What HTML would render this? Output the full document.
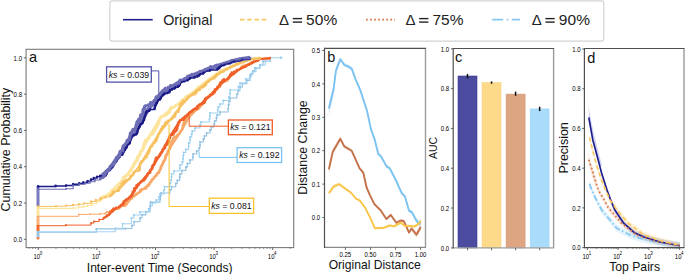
<!DOCTYPE html>
<html><head><meta charset="utf-8"><style>
html,body{margin:0;padding:0;background:#fff;}
svg{display:block;font-family:"Liberation Sans", sans-serif;}
</style></head><body>
<svg width="685" height="274" viewBox="0 0 685 274">
<defs><clipPath id="clipa"><rect x="26.1" y="49.3" width="267.59999999999997" height="198.3"/></clipPath></defs>
<rect width="685" height="274" fill="#fff"/>
<rect x="109.8" y="0.9" width="494" height="40.2" fill="#fff" stroke="#d4d4d4" stroke-width="1.2" rx="2.5"/>
<line x1="123" y1="19.7" x2="152.7" y2="19.7" stroke="#22228c" stroke-width="1.6" />
<text x="163.2" y="24.8" font-size="14.3" text-anchor="start" fill="#222" >Original</text>
<line x1="240" y1="19.6" x2="268" y2="19.6" stroke="#fcc860" stroke-width="1.6" stroke-dasharray="4.4,2.9"/>
<line x1="366" y1="19.6" x2="395" y2="19.6" stroke="#d9784a" stroke-width="1.8" stroke-dasharray="1.8,2.25"/>
<line x1="492.2" y1="19.6" x2="520" y2="19.6" stroke="#86c8f2" stroke-width="1.6" stroke-dasharray="11,3.5,1.6,3.5"/>
<text x="279.1" y="24.9" font-size="15.0" text-anchor="start" fill="#222" >Δ</text>
<line x1="292.8" y1="18.6" x2="302.1" y2="18.6" stroke="#222" stroke-width="1.4" />
<line x1="292.8" y1="22.1" x2="302.1" y2="22.1" stroke="#222" stroke-width="1.4" />
<text x="306.1" y="24.9" font-size="15.5" text-anchor="start" fill="#222" letter-spacing="0.1">50%</text>
<text x="405.4" y="24.9" font-size="15.0" text-anchor="start" fill="#222" >Δ</text>
<line x1="419.1" y1="18.6" x2="428.4" y2="18.6" stroke="#222" stroke-width="1.4" />
<line x1="419.1" y1="22.1" x2="428.4" y2="22.1" stroke="#222" stroke-width="1.4" />
<text x="432.4" y="24.9" font-size="15.5" text-anchor="start" fill="#222" letter-spacing="0.1">75%</text>
<text x="531.7" y="24.9" font-size="15.0" text-anchor="start" fill="#222" >Δ</text>
<line x1="545.4" y1="18.6" x2="554.7" y2="18.6" stroke="#222" stroke-width="1.4" />
<line x1="545.4" y1="22.1" x2="554.7" y2="22.1" stroke="#222" stroke-width="1.4" />
<text x="558.7" y="24.9" font-size="15.5" text-anchor="start" fill="#222" letter-spacing="0.1">90%</text>
<g clip-path="url(#clipa)">
<line x1="38" y1="186.4" x2="38" y2="206" stroke="#7b7bbf" stroke-width="3" />
<line x1="38" y1="206" x2="38" y2="216" stroke="#fde7a0" stroke-width="3" />
<line x1="38" y1="216" x2="38" y2="225" stroke="#f8b27a" stroke-width="3" />
<line x1="38" y1="225" x2="38" y2="231" stroke="#f26a2c" stroke-width="3" />
<line x1="38" y1="231" x2="38" y2="238" stroke="#9cc6e4" stroke-width="3" />
<path d="M38.1,232.3H96.3V228.9H125.5V228.5H132V225.5H134.06V221.75H140V218H141.95V214.83H145.85V211.67H150V208.5H150.36V205.33H150.43V202.17H160V199H160.5V196H160.94V193H170V190H171.49V186.8H175.72V183.6H177.23V180.4H179.62V177.2H180V174H181.97V170.5H185.92V167H187.36V163.5H190V160H192.89V157H193.06V154H196.75V151H199.07V148H200V145H200.05V142H203.36V139H204.42V136H206.52V133H210V130H211.36V127H214.1V124H214.65V121H216.4V118H217.03V115H220V112H228.11V108.5H228.5V105H229.06V101.5H230V98H236.84V94.33H238V90.67H240V87H242.31V83.67H246.86V80.33H250V77H250.95V74H252.89V71H254.83V68H260V65H263.02V61.35H270V57.7" fill="none" stroke="#92c2e2" stroke-width="1.1"/>
<path d="M38.1,232.3h0M96.3,228.9h0M125.5,228.5h0M132,225.5h0M134.06,221.75h0M140,218h0M141.95,214.83h0M145.85,211.67h0M150,208.5h0M150.36,205.33h0M150.43,202.17h0M160,199h0M160.5,196h0M160.94,193h0M170,190h0M171.49,186.8h0M175.72,183.6h0M177.23,180.4h0M179.62,177.2h0M180,174h0M181.97,170.5h0M185.92,167h0M187.36,163.5h0M190,160h0M192.89,157h0M193.06,154h0M196.75,151h0M199.07,148h0M200,145h0M200.05,142h0M203.36,139h0M204.42,136h0M206.52,133h0M210,130h0M211.36,127h0M214.1,124h0M214.65,121h0M216.4,118h0M217.03,115h0M220,112h0M228.11,108.5h0M228.5,105h0M229.06,101.5h0M230,98h0M236.84,94.33h0M238,90.67h0M240,87h0M242.31,83.67h0M246.86,80.33h0M250,77h0M250.95,74h0M252.89,71h0M254.83,68h0M260,65h0M263.02,61.35h0M270,57.7h0" fill="none" stroke="#8cbfe2" stroke-width="2.0" stroke-linecap="round"/>
<path d="M38.1,231.8H115.3V228.2H122.6V223.8H131.4V218H133.91V215H140V212H148.62V209H150V206H152.32V203H156.25V200H159.01V197H160V194H163.83V190.33H164.55V186.67H170V183H171.08V180H171.51V177H171.6V174H174.04V171H179.88V168H180V165H182.25V161.88H182.98V158.75H183.21V155.62H183.7V152.5H185.74V149.38H188.61V146.25H188.67V143.12H190V140H190.06V137H191.69V134H192.2V131H194.94V128H200V125H200.92V122H209.41V119H209.9V116H210V113H217.84V110H218.12V107H220V104H223.2V100.5H228.96V97H230V93.5H230.18V90H238.46V86.5H240V83H245.84V79H250V75H252.6V71.67H255.98V68.33H260V65H265.33V61.35H270V57.7H281V57.7" fill="none" stroke="#a2d4f2" stroke-width="1.1"/>
<path d="M38.1,231.8h0M115.3,228.2h0M122.6,223.8h0M131.4,218h0M133.91,215h0M140,212h0M148.62,209h0M150,206h0M152.32,203h0M156.25,200h0M159.01,197h0M160,194h0M163.83,190.33h0M164.55,186.67h0M170,183h0M171.08,180h0M171.51,177h0M171.6,174h0M174.04,171h0M179.88,168h0M180,165h0M182.25,161.88h0M182.98,158.75h0M183.21,155.62h0M183.7,152.5h0M185.74,149.38h0M188.61,146.25h0M188.67,143.12h0M190,140h0M190.06,137h0M191.69,134h0M192.2,131h0M194.94,128h0M200,125h0M200.92,122h0M209.41,119h0M209.9,116h0M210,113h0M217.84,110h0M218.12,107h0M220,104h0M223.2,100.5h0M228.96,97h0M230,93.5h0M230.18,90h0M238.46,86.5h0M240,83h0M245.84,79h0M250,75h0M252.6,71.67h0M255.98,68.33h0M260,65h0M265.33,61.35h0M270,57.7h0M281,57.7h0" fill="none" stroke="#98cdef" stroke-width="2.0" stroke-linecap="round"/>
<polyline points="110,211 120,207.5 130,199.5 140,192 150,183 160,170 170,148 180,133 190,116 200,106.5 210,95 220,85 230,76 240,69 250,63 260,59 270,57.9" fill="none" stroke="#f8a868" stroke-width="2.0" stroke-linejoin="round" stroke-linecap="butt" />
<path d="M38.1,216.3H78.8V214.4H90V214.2H100V213.8H104.9V213.5H105.81V212.67H106.88V211.83H110V211H112.51V210.12H114.51V209.25H119.04V208.38H120V207.5H120.44V206.61H125.15V205.72H126.06V204.83H127.04V203.94H127.06V203.06H127.72V202.17H128.79V201.28H128.82V200.39H130V199.5H131.47V198.56H131.56V197.62H133.01V196.69H133.93V195.75H135.6V194.81H136.23V193.88H138.03V192.94H140V192H140.03V191.1H140.11V190.2H141.61V189.3H146V188.4H146.39V187.5H147.2V186.6H148.39V185.7H148.9V184.8H149.5V183.9H150V183H150.5V182.07H151.49V181.14H151.88V180.21H152.39V179.29H154.01V178.36H154.04V177.43H154.95V176.5H156.4V175.57H156.81V174.64H157.08V173.71H158.85V172.79H159.15V171.86H159.38V170.93H160V170H160.57V169.08H160.62V168.17H160.81V167.25H161V166.33H161.86V165.42H162.14V164.5H163.06V163.58H163.15V162.67H163.35V161.75H163.85V160.83H164.89V159.92H165.17V159H165.3V158.08H165.36V157.17H165.72V156.25H165.82V155.33H166.61V154.42H167.48V153.5H167.58V152.58H167.73V151.67H168.52V150.75H169.01V149.83H169.8V148.92H170V148H170.06V147.12H170.21V146.24H170.91V145.35H171.05V144.47H171.24V143.59H171.48V142.71H171.72V141.82H171.95V140.94H173.07V140.06H173.14V139.18H173.15V138.29H174.41V137.41H175.35V136.53H177.27V135.65H177.52V134.76H178.84V133.88H180V133H180.12V132.11H180.78V131.21H181.65V130.32H182.17V129.42H182.52V128.53H182.69V127.63H182.89V126.74H183.01V125.84H183.05V124.95H183.47V124.05H183.64V123.16H184.44V122.26H184.46V121.37H185.58V120.47H186.15V119.58H187.39V118.68H188.48V117.79H189.59V116.89H190V116H190.02V115.14H191.58V114.27H191.79V113.41H192.2V112.55H193.45V111.68H194.3V110.82H194.91V109.95H198.11V109.09H199.19V108.23H199.67V107.36H200V106.5H201.32V105.62H201.76V104.73H202.78V103.85H203.07V102.96H203.21V102.08H203.72V101.19H204.86V100.31H204.99V99.42H206.03V98.54H207.74V97.65H208.84V96.77H209.99V95.88H210V95H211.38V94.09H214.16V93.18H214.23V92.27H214.67V91.36H215.11V90.45H216.16V89.55H216.93V88.64H217.82V87.73H219.92V86.82H219.92V85.91H220V85H220.17V84.1H220.34V83.2H220.43V82.3H225.07V81.4H227.5V80.5H227.62V79.6H228.5V78.7H228.98V77.8H229.45V76.9H230V76H232.01V75.12H233.71V74.25H234.58V73.38H234.98V72.5H235.75V71.62H236.01V70.75H237.57V69.88H240V69H241.15V68.14H241.35V67.29H241.82V66.43H242.95V65.57H245.18V64.71H248.85V63.86H250V63H254.46V62H257.15V61H258.71V60H260V59H270V57.9" fill="none" stroke="#f8a868" stroke-width="1.0"/>
<path d="M38.1,216.3h0" fill="none" stroke="#f8a868" stroke-width="1.6" stroke-linecap="round"/>
<path d="M78.8,214.4h0M90,214.2h0M100,213.8h0M104.9,213.5h0" fill="none" stroke="#f8a868" stroke-width="1.7" stroke-linecap="round"/>
<path d="M105.81,212.67h0" fill="none" stroke="#f8a868" stroke-width="1.8" stroke-linecap="round"/>
<path d="M257.15,61h0M258.71,60h0M260,59h0M270,57.9h0" fill="none" stroke="#f8a868" stroke-width="1.9" stroke-linecap="round"/>
<path d="M106.88,211.83h0M110,211h0M112.51,210.12h0M119.04,208.38h0M248.85,63.86h0M250,63h0" fill="none" stroke="#f8a868" stroke-width="2.0" stroke-linecap="round"/>
<path d="M114.51,209.25h0M120,207.5h0M120.44,206.61h0M245.18,64.71h0M254.46,62h0" fill="none" stroke="#f8a868" stroke-width="2.1" stroke-linecap="round"/>
<path d="M140.03,191.1h0M146.39,187.5h0M227.62,79.6h0M241.82,66.43h0M242.95,65.57h0" fill="none" stroke="#f8a868" stroke-width="2.3" stroke-linecap="round"/>
<path d="M125.15,205.72h0M126.06,204.83h0M127.04,203.94h0M135.6,194.81h0M140.11,190.2h0M146,188.4h0M147.2,186.6h0M194.3,110.82h0M194.91,109.95h0M209.99,95.88h0M225.07,81.4h0M227.5,80.5h0M241.35,67.29h0" fill="none" stroke="#f8a868" stroke-width="2.4" stroke-linecap="round"/>
<path d="M141.61,189.3h0M177.27,135.65h0M198.11,109.09h0M199.19,108.23h0M199.67,107.36h0M220.34,83.2h0M220.43,82.3h0M241.15,68.14h0" fill="none" stroke="#f8a868" stroke-width="2.5" stroke-linecap="round"/>
<path d="M131.56,197.62h0M133.93,195.75h0M136.23,193.88h0M193.45,111.68h0M206.03,98.54h0M208.84,96.77h0M210,95h0M233.71,74.25h0M234.58,73.38h0M235.75,71.62h0M236.01,70.75h0M237.57,69.88h0M240,69h0" fill="none" stroke="#f8a868" stroke-width="2.6" stroke-linecap="round"/>
<path d="M133.01,196.69h0M138.03,192.94h0M140,192h0M175.35,136.53h0M177.52,134.76h0M204.99,99.42h0M211.38,94.09h0M214.23,92.27h0M229.45,76.9h0M230,76h0M232.01,75.12h0M234.98,72.5h0" fill="none" stroke="#f8a868" stroke-width="2.7" stroke-linecap="round"/>
<path d="M127.06,203.06h0M127.72,202.17h0M128.79,201.28h0M128.82,200.39h0M130,199.5h0M131.47,198.56h0M148.39,185.7h0M148.9,184.8h0M149.5,183.9h0M150,183h0M150.5,182.07h0M151.49,181.14h0M151.88,180.21h0M152.39,179.29h0M154.01,178.36h0M154.04,177.43h0M154.95,176.5h0M156.4,175.57h0M156.81,174.64h0M157.08,173.71h0M158.85,172.79h0M159.15,171.86h0M159.38,170.93h0M160,170h0M160.57,169.08h0M160.62,168.17h0M160.81,167.25h0M161,166.33h0M161.86,165.42h0M162.14,164.5h0M163.06,163.58h0M163.15,162.67h0M163.35,161.75h0M163.85,160.83h0M164.89,159.92h0M165.17,159h0M165.3,158.08h0M165.36,157.17h0M165.72,156.25h0M165.82,155.33h0M166.61,154.42h0M167.48,153.5h0M167.58,152.58h0M167.73,151.67h0M168.52,150.75h0M169.01,149.83h0M169.8,148.92h0M170,148h0M170.06,147.12h0M170.21,146.24h0M170.91,145.35h0M171.05,144.47h0M171.24,143.59h0M171.48,142.71h0M171.72,141.82h0M171.95,140.94h0M173.07,140.06h0M173.14,139.18h0M173.15,138.29h0M174.41,137.41h0M178.84,133.88h0M180,133h0M180.12,132.11h0M180.78,131.21h0M181.65,130.32h0M182.17,129.42h0M182.52,128.53h0M182.69,127.63h0M182.89,126.74h0M183.01,125.84h0M183.05,124.95h0M183.47,124.05h0M183.64,123.16h0M184.44,122.26h0M184.46,121.37h0M185.58,120.47h0M186.15,119.58h0M187.39,118.68h0M188.48,117.79h0M189.59,116.89h0M190,116h0M190.02,115.14h0M191.58,114.27h0M191.79,113.41h0M192.2,112.55h0M200,106.5h0M201.32,105.62h0M201.76,104.73h0M202.78,103.85h0M203.07,102.96h0M203.21,102.08h0M203.72,101.19h0M204.86,100.31h0M207.74,97.65h0M214.16,93.18h0M214.67,91.36h0M215.11,90.45h0M216.16,89.55h0M216.93,88.64h0M217.82,87.73h0M219.92,86.82h0M219.92,85.91h0M220,85h0M220.17,84.1h0M228.5,78.7h0M228.98,77.8h0" fill="none" stroke="#f8a868" stroke-width="2.8" stroke-linecap="round"/>
<polyline points="110,213 120,206 130,197 140,183 150,171.5 160,155 170,136 180,120.5 190,112.3 200,104.5 210,96 220,85 230,76.5 240,69 250,64 260,59 270,57.9" fill="none" stroke="#f0602a" stroke-width="2.0" stroke-linejoin="round" stroke-linecap="butt" />
<path d="M38.1,225.7H66V225.1H91.1V223.1H94V221.5H99.3V219.5H103.4V218.5H104.4V217.58H106.17V216.67H106.96V215.75H108.69V214.83H109.59V213.92H110V213H110.91V212.12H112.31V211.25H112.39V210.38H113.05V209.5H113.7V208.62H116.2V207.75H119.45V206.88H120V206H121.82V205.1H123.07V204.2H123.31V203.3H123.81V202.4H123.92V201.5H125.26V200.6H126.12V199.7H127.87V198.8H129.12V197.9H130V197H131.18V196.12H131.92V195.25H132.02V194.38H132.81V193.5H132.81V192.62H132.95V191.75H134.28V190.88H134.32V190H134.4V189.12H134.5V188.25H136.39V187.38H136.57V186.5H136.59V185.62H138.23V184.75H138.34V183.88H140V183H140.69V182.12H141.81V181.23H143.69V180.35H144.22V179.46H145.21V178.58H145.24V177.69H146.14V176.81H146.58V175.92H147.35V175.04H147.42V174.15H148.28V173.27H149.96V172.38H150V171.5H150.26V170.58H150.82V169.67H152.01V168.75H152.2V167.83H152.33V166.92H152.52V166H153.17V165.08H154.11V164.17H154.45V163.25H154.76V162.33H155.1V161.42H155.39V160.5H155.75V159.58H155.81V158.67H156.28V157.75H158.71V156.83H159.07V155.92H160V155H160.1V154.1H160.77V153.19H161.57V152.29H162.21V151.38H162.63V150.48H163V149.57H163.59V148.67H164.89V147.76H164.98V146.86H165.04V145.95H165.82V145.05H167.24V144.14H167.65V143.24H167.99V142.33H168.71V141.43H168.83V140.52H169.01V139.62H169.13V138.71H169.63V137.81H169.85V136.9H170V136H170.87V135.09H173.13V134.18H173.39V133.26H174.3V132.35H174.69V131.44H176.11V130.53H176.76V129.62H176.99V128.71H177.17V127.79H177.19V126.88H177.67V125.97H178.03V125.06H178.17V124.15H178.5V123.24H178.79V122.32H179.89V121.41H180V120.5H183.59V119.59H184.08V118.68H184.77V117.77H185.25V116.86H186.61V115.94H187.92V115.03H188.54V114.12H189.03V113.21H190V112.3H191.84V111.43H192.33V110.57H193.58V109.7H196.64V108.83H197.23V107.97H197.48V107.1H197.73V106.23H198.93V105.37H200V104.5H202.75V103.56H204.41V102.61H204.65V101.67H204.83V100.72H205.09V99.78H205.27V98.83H206.32V97.89H208.01V96.94H210V96H210.32V95.08H212.47V94.17H212.88V93.25H213.47V92.33H214.87V91.42H214.97V90.5H215.08V89.58H217.01V88.67H217.38V87.75H217.85V86.83H218.79V85.92H220V85H220.01V84.06H220.58V83.11H221.38V82.17H222.31V81.22H222.64V80.28H223.87V79.33H228.21V78.39H228.9V77.44H230V76.5H230.14V75.56H230.49V74.62H231.68V73.69H231.81V72.75H234.19V71.81H236.8V70.88H236.91V69.94H240V69H240.79V68.17H243.3V67.33H245.7V66.5H246.29V65.67H248.2V64.83H250V64H251.93V63.17H252.3V62.33H253.95V61.5H257.78V60.67H259.1V59.83H260V59H270V57.9" fill="none" stroke="#f0602a" stroke-width="1.0"/>
<path d="M38.1,225.7h0M66,225.1h0M91.1,223.1h0M94,221.5h0" fill="none" stroke="#f0602a" stroke-width="2.1" stroke-linecap="round"/>
<path d="M99.3,219.5h0M260,59h0M270,57.9h0" fill="none" stroke="#f0602a" stroke-width="2.2" stroke-linecap="round"/>
<path d="M257.78,60.67h0M259.1,59.83h0" fill="none" stroke="#f0602a" stroke-width="2.3" stroke-linecap="round"/>
<path d="M246.29,65.67h0M251.93,63.17h0" fill="none" stroke="#f0602a" stroke-width="2.4" stroke-linecap="round"/>
<path d="M103.4,218.5h0M104.4,217.58h0M106.17,216.67h0M119.45,206.88h0M236.91,69.94h0M240,69h0M240.79,68.17h0M243.3,67.33h0M245.7,66.5h0M252.3,62.33h0M253.95,61.5h0" fill="none" stroke="#f0602a" stroke-width="2.5" stroke-linecap="round"/>
<path d="M113.05,209.5h0M116.2,207.75h0M120,206h0M192.33,110.57h0M234.19,71.81h0M236.8,70.88h0M248.2,64.83h0M250,64h0" fill="none" stroke="#f0602a" stroke-width="2.6" stroke-linecap="round"/>
<path d="M113.7,208.62h0M121.82,205.1h0M127.87,198.8h0M140,183h0M184.77,117.77h0M191.84,111.43h0M193.58,109.7h0M198.93,105.37h0M210,96h0M222.31,81.22h0M222.64,80.28h0M223.87,79.33h0M228.21,78.39h0M228.9,77.44h0M230,76.5h0" fill="none" stroke="#f0602a" stroke-width="2.7" stroke-linecap="round"/>
<path d="M106.96,215.75h0M108.69,214.83h0M112.39,210.38h0M129.12,197.9h0M141.81,181.23h0M183.59,119.59h0M184.08,118.68h0M188.54,114.12h0M197.23,107.97h0M197.48,107.1h0M200,104.5h0M202.75,103.56h0M208.01,96.94h0M210.32,95.08h0M212.47,94.17h0M231.68,73.69h0M231.81,72.75h0" fill="none" stroke="#f0602a" stroke-width="2.8" stroke-linecap="round"/>
<path d="M109.59,213.92h0M125.26,200.6h0M126.12,199.7h0M130,197h0M140.69,182.12h0M173.39,133.26h0M174.3,132.35h0M179.89,121.41h0M180,120.5h0M189.03,113.21h0M190,112.3h0M196.64,108.83h0M197.73,106.23h0M204.41,102.61h0" fill="none" stroke="#f0602a" stroke-width="2.9" stroke-linecap="round"/>
<path d="M110,213h0M110.91,212.12h0M112.31,211.25h0M123.07,204.2h0M123.31,203.3h0M123.81,202.4h0M123.92,201.5h0M131.18,196.12h0M131.92,195.25h0M132.02,194.38h0M132.81,193.5h0M132.81,192.62h0M132.95,191.75h0M134.28,190.88h0M134.32,190h0M134.4,189.12h0M134.5,188.25h0M136.39,187.38h0M136.57,186.5h0M136.59,185.62h0M138.23,184.75h0M138.34,183.88h0M143.69,180.35h0M144.22,179.46h0M145.21,178.58h0M145.24,177.69h0M146.14,176.81h0M146.58,175.92h0M147.35,175.04h0M147.42,174.15h0M148.28,173.27h0M149.96,172.38h0M150,171.5h0M150.26,170.58h0M150.82,169.67h0M152.01,168.75h0M152.2,167.83h0M152.33,166.92h0M152.52,166h0M153.17,165.08h0M154.11,164.17h0M154.45,163.25h0M154.76,162.33h0M155.1,161.42h0M155.39,160.5h0M155.75,159.58h0M155.81,158.67h0M156.28,157.75h0M158.71,156.83h0M159.07,155.92h0M160,155h0M160.1,154.1h0M160.77,153.19h0M161.57,152.29h0M162.21,151.38h0M162.63,150.48h0M163,149.57h0M163.59,148.67h0M164.89,147.76h0M164.98,146.86h0M165.04,145.95h0M165.82,145.05h0M167.24,144.14h0M167.65,143.24h0M167.99,142.33h0M168.71,141.43h0M168.83,140.52h0M169.01,139.62h0M169.13,138.71h0M169.63,137.81h0M169.85,136.9h0M170,136h0M170.87,135.09h0M173.13,134.18h0M174.69,131.44h0M176.11,130.53h0M176.76,129.62h0M176.99,128.71h0M177.17,127.79h0M177.19,126.88h0M177.67,125.97h0M178.03,125.06h0M178.17,124.15h0M178.5,123.24h0M178.79,122.32h0M185.25,116.86h0M186.61,115.94h0M187.92,115.03h0M204.65,101.67h0M204.83,100.72h0M205.09,99.78h0M205.27,98.83h0M206.32,97.89h0M212.88,93.25h0M213.47,92.33h0M214.87,91.42h0M214.97,90.5h0M215.08,89.58h0M217.01,88.67h0M217.38,87.75h0M217.85,86.83h0M218.79,85.92h0M220,85h0M220.01,84.06h0M220.58,83.11h0M221.38,82.17h0M230.14,75.56h0M230.49,74.62h0" fill="none" stroke="#f0602a" stroke-width="3.0" stroke-linecap="round"/>
<polyline points="100,200 110,193 120,183 130,171 140,154 150,135.5 160,118.5 170,110 180,102.5 190,94.5 200,86.5 210,78.5 220,71.5 230,67.5 240,62.5 250,59 260,57.9" fill="none" stroke="#fde59e" stroke-width="2.6" stroke-linejoin="round" stroke-linecap="butt" />
<path d="M38.1,208.3H73.6V208H78.8V207.2H83.5V206.5H87.6V205.5H92.3V203.5H97V201.5H101V199H101.23V198.14H102.54V197.29H103.38V196.43H105.82V195.57H108V194.71H109.61V193.86H110V193H110.94V192.09H111.84V191.18H112.02V190.27H114.01V189.36H114.98V188.45H115.09V187.55H117.52V186.64H117.66V185.73H118.02V184.82H119.18V183.91H120V183H120.89V182.08H122.03V181.15H122.7V180.23H123.11V179.31H123.32V178.38H123.4V177.46H124.78V176.54H126.31V175.62H127.17V174.69H128.64V173.77H129.13V172.85H129.47V171.92H130V171H131.46V170.11H131.49V169.21H131.98V168.32H132.18V167.42H133.22V166.53H133.53V165.63H133.81V164.74H134.18V163.84H134.73V162.95H135.77V162.05H136.08V161.16H137.41V160.26H137.49V159.37H137.71V158.47H137.79V157.58H137.87V156.68H138.94V155.79H139.86V154.89H140V154H140.11V153.12H140.38V152.24H141.08V151.36H141.94V150.48H142.64V149.6H143.1V148.71H143.18V147.83H143.44V146.95H143.55V146.07H143.93V145.19H144.36V144.31H144.48V143.43H144.62V142.55H145.4V141.67H145.42V140.79H146.24V139.9H147.38V139.02H148.9V138.14H149.14V137.26H149.55V136.38H150V135.5H150.54V134.61H152.59V133.71H153.21V132.82H153.41V131.92H154.47V131.03H154.83V130.13H155.33V129.24H156.03V128.34H156.03V127.45H156.83V126.55H157.41V125.66H157.78V124.76H158.18V123.87H158.52V122.97H158.63V122.08H159.04V121.18H159.06V120.29H159.44V119.39H160V118.5H160.59V117.56H161.42V116.61H164.6V115.67H166.82V114.72H166.96V113.78H168.53V112.83H169.5V111.89H169.56V110.94H170V110H170.35V109.06H170.46V108.12H171.49V107.19H175.01V106.25H175.53V105.31H178.24V104.38H179.81V103.44H180V102.5H181.32V101.61H181.94V100.72H183.7V99.83H184.55V98.94H185.46V98.06H185.75V97.17H186.85V96.28H188.67V95.39H190V94.5H191.44V93.61H195V92.72H196.67V91.83H196.96V90.94H197.07V90.06H197.27V89.17H197.83V88.28H198.27V87.39H200V86.5H201.8V85.61H202.95V84.72H203.77V83.83H205.34V82.94H205.88V82.06H206.82V81.17H208.93V80.28H209.7V79.39H210V78.5H213.58V77.62H215.57V76.75H216.28V75.88H217.01V75H218.18V74.12H219.6V73.25H220V72.38H220V71.5H220.93V70.5H226.96V69.5H227.57V68.5H230V67.5H231.59V66.67H233.3V65.83H234.67V65H238.45V64.17H239.8V63.33H240V62.5H241.13V61.62H242.9V60.75H249.41V59.88H250V59H260V57.9" fill="none" stroke="#fde59e" stroke-width="1.2"/>
<path d="M38.1,208.3h0M73.6,208h0M78.8,207.2h0" fill="none" stroke="#fde59e" stroke-width="1.9" stroke-linecap="round"/>
<path d="M83.5,206.5h0" fill="none" stroke="#fde59e" stroke-width="2.0" stroke-linecap="round"/>
<path d="M250,59h0M260,57.9h0" fill="none" stroke="#fde59e" stroke-width="2.1" stroke-linecap="round"/>
<path d="M242.9,60.75h0M249.41,59.88h0" fill="none" stroke="#fde59e" stroke-width="2.2" stroke-linecap="round"/>
<path d="M87.6,205.5h0" fill="none" stroke="#fde59e" stroke-width="2.3" stroke-linecap="round"/>
<path d="M92.3,203.5h0M230,67.5h0M240,62.5h0" fill="none" stroke="#fde59e" stroke-width="2.4" stroke-linecap="round"/>
<path d="M227.57,68.5h0M231.59,66.67h0M233.3,65.83h0M241.13,61.62h0" fill="none" stroke="#fde59e" stroke-width="2.5" stroke-linecap="round"/>
<path d="M97,201.5h0M190,94.5h0M191.44,93.61h0M226.96,69.5h0M234.67,65h0M238.45,64.17h0M239.8,63.33h0" fill="none" stroke="#fde59e" stroke-width="2.6" stroke-linecap="round"/>
<path d="M101,199h0M101.23,198.14h0M105.82,195.57h0M175.53,105.31h0M178.24,104.38h0M188.67,95.39h0M209.7,79.39h0M210,78.5h0M216.28,75.88h0M220,72.38h0M220.93,70.5h0" fill="none" stroke="#fde59e" stroke-width="2.7" stroke-linecap="round"/>
<path d="M102.54,197.29h0M103.38,196.43h0M108,194.71h0M109.61,193.86h0M166.82,114.72h0M175.01,106.25h0M195,92.72h0M208.93,80.28h0M213.58,77.62h0M215.57,76.75h0M220,71.5h0" fill="none" stroke="#fde59e" stroke-width="2.8" stroke-linecap="round"/>
<path d="M160.59,117.56h0M164.6,115.67h0M166.96,113.78h0M171.49,107.19h0M180,102.5h0M201.8,85.61h0M202.95,84.72h0" fill="none" stroke="#fde59e" stroke-width="2.9" stroke-linecap="round"/>
<path d="M161.42,116.61h0M186.85,96.28h0M196.67,91.83h0M205.34,82.94h0" fill="none" stroke="#fde59e" stroke-width="3.0" stroke-linecap="round"/>
<path d="M114.01,189.36h0M179.81,103.44h0M185.46,98.06h0M196.96,90.94h0M200,86.5h0M203.77,83.83h0M205.88,82.06h0M217.01,75h0" fill="none" stroke="#fde59e" stroke-width="3.1" stroke-linecap="round"/>
<path d="M110,193h0M110.94,192.09h0M181.32,101.61h0M185.75,97.17h0M198.27,87.39h0M206.82,81.17h0" fill="none" stroke="#fde59e" stroke-width="3.2" stroke-linecap="round"/>
<path d="M114.98,188.45h0M115.09,187.55h0M118.02,184.82h0M126.31,175.62h0M127.17,174.69h0M170.46,108.12h0M181.94,100.72h0M183.7,99.83h0M184.55,98.94h0" fill="none" stroke="#fde59e" stroke-width="3.3" stroke-linecap="round"/>
<path d="M111.84,191.18h0M112.02,190.27h0M117.52,186.64h0M117.66,185.73h0M119.18,183.91h0M120,183h0M120.89,182.08h0M122.03,181.15h0M122.7,180.23h0M123.11,179.31h0M123.32,178.38h0M123.4,177.46h0M124.78,176.54h0M128.64,173.77h0M129.13,172.85h0M129.47,171.92h0M130,171h0M131.46,170.11h0M131.49,169.21h0M131.98,168.32h0M132.18,167.42h0M133.22,166.53h0M133.53,165.63h0M133.81,164.74h0M134.18,163.84h0M134.73,162.95h0M135.77,162.05h0M136.08,161.16h0M137.41,160.26h0M137.49,159.37h0M137.71,158.47h0M137.79,157.58h0M137.87,156.68h0M138.94,155.79h0M139.86,154.89h0M140,154h0M140.11,153.12h0M140.38,152.24h0M141.08,151.36h0M141.94,150.48h0M142.64,149.6h0M143.1,148.71h0M143.18,147.83h0M143.44,146.95h0M143.55,146.07h0M143.93,145.19h0M144.36,144.31h0M144.48,143.43h0M144.62,142.55h0M145.4,141.67h0M145.42,140.79h0M146.24,139.9h0M147.38,139.02h0M148.9,138.14h0M149.14,137.26h0M149.55,136.38h0M150,135.5h0M150.54,134.61h0M152.59,133.71h0M153.21,132.82h0M153.41,131.92h0M154.47,131.03h0M154.83,130.13h0M155.33,129.24h0M156.03,128.34h0M156.03,127.45h0M156.83,126.55h0M157.41,125.66h0M157.78,124.76h0M158.18,123.87h0M158.52,122.97h0M158.63,122.08h0M159.04,121.18h0M159.06,120.29h0M159.44,119.39h0M160,118.5h0M168.53,112.83h0M169.5,111.89h0M169.56,110.94h0M170,110h0M170.35,109.06h0M197.07,90.06h0M197.27,89.17h0M197.83,88.28h0M218.18,74.12h0M219.6,73.25h0" fill="none" stroke="#fde59e" stroke-width="3.4" stroke-linecap="round"/>
<polyline points="110,196 120,188 130,178 140,165 150,148 160,132 170,120 180,107 190,96 200,88 210,80 220,72.5 230,67.7 240,63 250,59.5 260,58" fill="none" stroke="#f7c060" stroke-width="2.0" stroke-linejoin="round" stroke-linecap="butt" />
<path d="M38.1,206.4H56V206.2H66V205.6H73V205H78.8V204.2H84.1V203.3H91.1V201.5H95.8V200H100.4V199H100.59V198H105.59V197H110V196H111.82V195.11H111.9V194.22H112.67V193.33H113.43V192.44H113.47V191.56H118.52V190.67H118.89V189.78H119.04V188.89H120V188H120.21V187.09H121.34V186.18H121.83V185.27H121.98V184.36H122.05V183.45H123.56V182.55H123.93V181.64H125.73V180.73H126.45V179.82H129.59V178.91H130V178H130.3V177.07H130.62V176.14H132.36V175.21H133.38V174.29H133.82V173.36H133.92V172.43H135.11V171.5H138.71V170.57H139.63V169.64H139.64V168.71H139.67V167.79H139.77V166.86H139.96V165.93H140V165H140.02V164.11H140.5V163.21H141.52V162.32H141.62V161.42H143.24V160.53H143.53V159.63H144.25V158.74H145.36V157.84H146.61V156.95H146.63V156.05H146.79V155.16H147.2V154.26H148.51V153.37H148.55V152.47H148.7V151.58H149.55V150.68H149.6V149.79H149.82V148.89H150V148H150.59V147.11H151.97V146.22H152.07V145.33H152.77V144.44H153.46V143.56H154.4V142.67H154.82V141.78H156.16V140.89H156.4V140H156.68V139.11H156.81V138.22H157.6V137.33H157.94V136.44H158.11V135.56H158.2V134.67H158.87V133.78H159.35V132.89H160V132H160.44V131.08H161.04V130.15H161.19V129.23H162.3V128.31H162.32V127.38H162.89V126.46H164.17V125.54H165.18V124.62H165.27V123.69H165.52V122.77H167.18V121.85H168.11V120.92H170V120H171.58V119.07H172.04V118.14H173.79V117.21H174.8V116.29H175.11V115.36H175.47V114.43H175.52V113.5H175.92V112.57H178.31V111.64H178.39V110.71H179.04V109.79H179.13V108.86H179.2V107.93H180V107H180.3V106.08H180.35V105.17H180.53V104.25H181.65V103.33H182.61V102.42H182.62V101.5H182.9V100.58H186.6V99.67H186.87V98.75H187.77V97.83H188.36V96.92H190V96H191.65V95.11H194.41V94.22H195.77V93.33H196.15V92.44H196.49V91.56H196.64V90.67H199.74V89.78H199.96V88.89H200V88H203.21V87.11H203.42V86.22H205.54V85.33H205.62V84.44H206.21V83.56H206.45V82.67H208.13V81.78H209.03V80.89H210V80H211.74V79.06H214.23V78.12H214.74V77.19H215.86V76.25H216.58V75.31H216.72V74.38H218.91V73.44H220V72.5H223.65V71.54H224.15V70.58H225.83V69.62H227.18V68.66H230V67.7H230.39V66.76H232.47V65.82H235.71V64.88H236.07V63.94H240V63H243.45V62.12H244.87V61.25H247.58V60.38H250V59.5H253.58V58.75H260V58" fill="none" stroke="#f7c060" stroke-width="1.0"/>
<path d="M38.1,206.4h0M56,206.2h0M66,205.6h0" fill="none" stroke="#f7c060" stroke-width="2.2" stroke-linecap="round"/>
<path d="M73,205h0M78.8,204.2h0M84.1,203.3h0M247.58,60.38h0M250,59.5h0M253.58,58.75h0M260,58h0" fill="none" stroke="#f7c060" stroke-width="2.3" stroke-linecap="round"/>
<path d="M91.1,201.5h0M95.8,200h0M100.4,199h0M100.59,198h0M105.59,197h0M235.71,64.88h0M236.07,63.94h0M240,63h0M243.45,62.12h0M244.87,61.25h0" fill="none" stroke="#f7c060" stroke-width="2.4" stroke-linecap="round"/>
<path d="M110,196h0M111.82,195.11h0M223.65,71.54h0M224.15,70.58h0M225.83,69.62h0M230,67.7h0M230.39,66.76h0M232.47,65.82h0" fill="none" stroke="#f7c060" stroke-width="2.5" stroke-linecap="round"/>
<path d="M111.9,194.22h0M112.67,193.33h0M113.47,191.56h0M118.52,190.67h0M119.04,188.89h0M123.93,181.64h0M125.73,180.73h0M133.82,173.36h0M170,120h0M171.58,119.07h0M186.87,98.75h0M187.77,97.83h0M188.36,96.92h0M190,96h0M191.65,95.11h0M194.41,94.22h0M196.15,92.44h0M200,88h0M209.03,80.89h0M210,80h0M211.74,79.06h0M214.23,78.12h0M216.72,74.38h0M218.91,73.44h0M220,72.5h0M227.18,68.66h0" fill="none" stroke="#f7c060" stroke-width="2.6" stroke-linecap="round"/>
<path d="M113.43,192.44h0M118.89,189.78h0M126.45,179.82h0M129.59,178.91h0M130,178h0M130.3,177.07h0M133.92,172.43h0M135.11,171.5h0M167.18,121.85h0M168.11,120.92h0M172.04,118.14h0M182.61,102.42h0M182.62,101.5h0M182.9,100.58h0M195.77,93.33h0M199.74,89.78h0M199.96,88.89h0M203.21,87.11h0M203.42,86.22h0M205.54,85.33h0M208.13,81.78h0M214.74,77.19h0M215.86,76.25h0" fill="none" stroke="#f7c060" stroke-width="2.7" stroke-linecap="round"/>
<path d="M120,188h0M120.21,187.09h0M121.34,186.18h0M121.83,185.27h0M121.98,184.36h0M122.05,183.45h0M123.56,182.55h0M130.62,176.14h0M132.36,175.21h0M133.38,174.29h0M138.71,170.57h0M139.63,169.64h0M139.64,168.71h0M139.67,167.79h0M139.77,166.86h0M139.96,165.93h0M140,165h0M140.02,164.11h0M140.5,163.21h0M141.52,162.32h0M141.62,161.42h0M143.24,160.53h0M143.53,159.63h0M144.25,158.74h0M145.36,157.84h0M146.61,156.95h0M146.63,156.05h0M146.79,155.16h0M147.2,154.26h0M148.51,153.37h0M148.55,152.47h0M148.7,151.58h0M149.55,150.68h0M149.6,149.79h0M149.82,148.89h0M150,148h0M150.59,147.11h0M151.97,146.22h0M152.07,145.33h0M152.77,144.44h0M153.46,143.56h0M154.4,142.67h0M154.82,141.78h0M156.16,140.89h0M156.4,140h0M156.68,139.11h0M156.81,138.22h0M157.6,137.33h0M157.94,136.44h0M158.11,135.56h0M158.2,134.67h0M158.87,133.78h0M159.35,132.89h0M160,132h0M160.44,131.08h0M161.04,130.15h0M161.19,129.23h0M162.3,128.31h0M162.32,127.38h0M162.89,126.46h0M164.17,125.54h0M165.18,124.62h0M165.27,123.69h0M165.52,122.77h0M173.79,117.21h0M174.8,116.29h0M175.11,115.36h0M175.47,114.43h0M175.52,113.5h0M175.92,112.57h0M178.31,111.64h0M178.39,110.71h0M179.04,109.79h0M179.13,108.86h0M179.2,107.93h0M180,107h0M180.3,106.08h0M180.35,105.17h0M180.53,104.25h0M181.65,103.33h0M186.6,99.67h0M196.49,91.56h0M196.64,90.67h0M205.62,84.44h0M206.21,83.56h0M206.45,82.67h0M216.58,75.31h0" fill="none" stroke="#f7c060" stroke-width="2.8" stroke-linecap="round"/>
<polyline points="100,177.5 110,168.5 120,154.25 130,139 140,122.25 150,106.75 160,96.75 170,88 180,81.75 190,76.5 200,72.5 210,68.5 220,65.15 230,61.9 240,59.4 250,57.95" fill="none" stroke="#7070b8" stroke-width="4.2" stroke-linejoin="round" stroke-linecap="butt" />
<path d="M38.1,186.4H55.6V185.9H66.1V185.5H73.1V184.2H79.2V183.4H83.2V182.4H87.5V181.2H91V179.5H93.7V178H97V176.8H100V176H105.68V175.07H106.1V174.14H106.69V173.21H106.78V172.29H107.03V171.36H107.22V170.43H110V169.5H110.4V168.6H111.05V167.7H112.4V166.8H112.7V165.9H113.53V165H113.77V164.1H113.94V163.2H114.87V162.3H115.59V161.4H116.53V160.5H116.74V159.6H117.2V158.7H117.36V157.8H119.21V156.9H120V156H120.28V155.12H122.44V154.25H122.61V153.38H122.69V152.5H123.71V151.62H123.99V150.75H124.57V149.88H125.38V149H125.42V148.12H126.51V147.25H126.77V146.38H127.22V145.5H127.55V144.62H128.63V143.75H129.73V142.88H130V142H130.06V141.11H130.24V140.22H130.52V139.33H130.56V138.44H130.65V137.56H131.4V136.67H132.03V135.78H133.99V134.89H136.02V134H137.11V133.11H137.36V132.22H137.45V131.33H137.64V130.44H137.97V129.56H138.36V128.67H138.77V127.78H139V126.89H140V126H140.2V125.08H140.57V124.17H141.88V123.25H142.86V122.33H143.07V121.42H143.24V120.5H144.22V119.58H144.23V118.67H144.31V117.75H144.77V116.83H145.23V115.92H145.34V115H145.37V114.08H145.5V113.17H146.38V112.25H146.76V111.33H149.08V110.42H150V109.5H154.65V108.62H154.7V107.75H154.94V106.88H154.96V106H155.64V105.12H156.13V104.25H156.2V103.38H157.15V102.5H157.26V101.62H157.71V100.75H158.05V99.88H160V99H160.67V98.1H161.04V97.2H161.1V96.3H161.79V95.4H163.02V94.5H164.41V93.6H167.42V92.7H169.47V91.8H169.82V90.9H170V90H172.09V89.07H174.39V88.14H175.44V87.21H178.06V86.29H179.24V85.36H179.73V84.43H180V83.5H180.02V82.58H181.41V81.67H184.48V80.75H187.67V79.83H188.52V78.92H190V78H194.57V77H197.48V76H199.07V75H200V74H203.22V73H204.04V72H204.93V71H210V70H217.35V69.12H218.55V68.25H219.34V67.38H220V66.5H221.01V65.58H223.7V64.65H224.7V63.72H230V62.8H231.31V61.87H234.26V60.93H240V60H242.18V59H250V58" fill="none" stroke="#1a1a86" stroke-width="1.5"/>
<path d="M106.69,173.21h0M106.78,172.29h0M107.03,171.36h0M107.22,170.43h0M110,169.5h0M110.4,168.6h0M111.05,167.7h0M112.4,166.8h0M112.7,165.9h0M113.53,165h0M113.77,164.1h0M113.94,163.2h0M114.87,162.3h0M115.59,161.4h0M116.53,160.5h0M116.74,159.6h0M117.2,158.7h0M117.36,157.8h0M119.21,156.9h0M120,156h0M120.28,155.12h0M122.44,154.25h0M122.61,153.38h0M122.69,152.5h0M123.71,151.62h0M123.99,150.75h0M124.57,149.88h0M125.38,149h0M125.42,148.12h0M126.51,147.25h0M126.77,146.38h0M127.22,145.5h0M127.55,144.62h0M128.63,143.75h0M129.73,142.88h0M130,142h0M130.06,141.11h0M130.24,140.22h0M130.52,139.33h0M130.56,138.44h0M130.65,137.56h0M131.4,136.67h0M132.03,135.78h0M133.99,134.89h0M136.02,134h0M137.11,133.11h0M137.36,132.22h0M137.45,131.33h0M137.64,130.44h0M137.97,129.56h0M138.36,128.67h0M138.77,127.78h0M139,126.89h0M140,126h0M140.2,125.08h0M140.57,124.17h0M141.88,123.25h0M142.86,122.33h0M143.07,121.42h0M143.24,120.5h0M144.22,119.58h0M144.23,118.67h0M144.31,117.75h0M144.77,116.83h0M145.23,115.92h0M145.34,115h0M145.37,114.08h0M145.5,113.17h0M146.38,112.25h0M154.7,107.75h0M154.94,106.88h0M154.96,106h0M155.64,105.12h0M156.13,104.25h0M156.2,103.38h0M157.15,102.5h0M157.26,101.62h0M157.71,100.75h0M158.05,99.88h0M160,99h0M160.67,98.1h0M161.04,97.2h0M161.1,96.3h0M161.79,95.4h0M179.24,85.36h0M179.73,84.43h0M180,83.5h0" fill="none" stroke="#1a1a86" stroke-width="2.4" stroke-linecap="round"/>
<path d="M83.2,182.4h0M87.5,181.2h0M91,179.5h0M93.7,178h0M97,176.8h0M100,176h0M105.68,175.07h0M106.1,174.14h0M146.76,111.33h0M149.08,110.42h0M150,109.5h0M154.65,108.62h0M163.02,94.5h0M164.41,93.6h0M167.42,92.7h0M169.47,91.8h0M169.82,90.9h0M170,90h0M172.09,89.07h0M174.39,88.14h0M175.44,87.21h0M178.06,86.29h0M180.02,82.58h0M181.41,81.67h0M184.48,80.75h0M187.67,79.83h0M188.52,78.92h0M190,78h0M194.57,77h0M197.48,76h0M199.07,75h0M200,74h0M203.22,73h0M204.04,72h0M204.93,71h0M210,70h0M217.35,69.12h0M218.55,68.25h0M219.34,67.38h0M220,66.5h0M221.01,65.58h0M223.7,64.65h0M224.7,63.72h0M230,62.8h0M231.31,61.87h0" fill="none" stroke="#1a1a86" stroke-width="2.5" stroke-linecap="round"/>
<path d="M38.1,186.4h0M55.6,185.9h0M66.1,185.5h0M73.1,184.2h0M79.2,183.4h0M234.26,60.93h0M240,60h0M242.18,59h0M250,58h0" fill="none" stroke="#1a1a86" stroke-width="2.6" stroke-linecap="round"/>
<path d="M38.1,189.3H66.1V188.8H73.1V185.5H79.2V184.3H85V183.3H90V181.8H95V180H100V179H101.31V178.12H103.31V177.23H104.02V176.35H104.04V175.46H104.68V174.58H105.27V173.69H105.77V172.81H106.02V171.92H106.94V171.04H108.75V170.15H108.83V169.27H109.65V168.38H110V167.5H110.36V166.62H111.47V165.74H113.05V164.85H113.56V163.97H113.66V163.09H114.91V162.21H115.01V161.32H115.24V160.44H116.11V159.56H116.3V158.68H116.45V157.79H117.92V156.91H119.34V156.03H119.52V155.15H119.77V154.26H119.93V153.38H120V152.5H120.18V151.58H122.56V150.67H122.61V149.75H122.77V148.83H122.91V147.92H122.96V147H123.41V146.08H124.24V145.17H125.35V144.25H125.96V143.33H126.99V142.42H127V141.5H127.2V140.58H129.18V139.67H129.22V138.75H129.41V137.83H129.81V136.92H130V136H130.34V135.08H130.36V134.16H130.48V133.24H131.84V132.32H131.91V131.39H132.92V130.47H133.01V129.55H135.13V128.63H135.62V127.71H136.06V126.79H136.13V125.87H136.16V124.95H136.77V124.03H136.85V123.11H136.94V122.18H137.69V121.26H138.58V120.34H138.6V119.42H140V118.5H140.34V117.59H140.55V116.69H140.6V115.78H140.82V114.88H142.75V113.97H142.9V113.06H142.96V112.16H143.03V111.25H143.09V110.34H143.28V109.44H144.37V108.53H144.4V107.62H144.49V106.72H145.73V105.81H148.28V104.91H150V104H150.28V103.14H150.71V102.27H153.67V101.41H154.32V100.55H155.51V99.68H155.88V98.82H155.91V97.95H156.32V97.09H157.68V96.23H159.17V95.36H160V94.5H160.61V93.56H161.36V92.61H161.93V91.67H162.68V90.72H164.43V89.78H164.64V88.83H165.52V87.89H168.16V86.94H170V86H170.32V85.14H175.74V84.29H178.73V83.43H179.04V82.57H179.54V81.71H179.91V80.86H180V80H184.46V79.17H185.07V78.33H187.47V77.5H187.61V76.67H187.63V75.83H190V75H191.91V74H197.7V73H199.1V72H200V71H204.99V70H205.33V69H208V68H210V67H210.73V66.2H214.95V65.4H216.75V64.6H220V63.8H223.61V62.87H226.57V61.93H230V61H231.89V59.9H240V58.8H250V57.9" fill="none" stroke="#6d6db6" stroke-width="1.1"/>
<path d="M38.1,189.3h0M66.1,188.8h0M73.1,185.5h0" fill="none" stroke="#6d6db6" stroke-width="2.0" stroke-linecap="round"/>
<path d="M79.2,184.3h0M230,61h0M231.89,59.9h0M240,58.8h0M250,57.9h0" fill="none" stroke="#6d6db6" stroke-width="2.1" stroke-linecap="round"/>
<path d="M90,181.8h0M226.57,61.93h0" fill="none" stroke="#6d6db6" stroke-width="2.2" stroke-linecap="round"/>
<path d="M85,183.3h0M95,180h0M216.75,64.6h0M220,63.8h0" fill="none" stroke="#6d6db6" stroke-width="2.3" stroke-linecap="round"/>
<path d="M100,179h0M197.7,73h0M200,71h0M208,68h0M210.73,66.2h0M214.95,65.4h0M223.61,62.87h0" fill="none" stroke="#6d6db6" stroke-width="2.4" stroke-linecap="round"/>
<path d="M170,86h0M170.32,85.14h0M187.63,75.83h0M199.1,72h0" fill="none" stroke="#6d6db6" stroke-width="2.5" stroke-linecap="round"/>
<path d="M101.31,178.12h0M168.16,86.94h0M175.74,84.29h0M187.47,77.5h0M190,75h0M191.91,74h0M204.99,70h0M205.33,69h0M210,67h0" fill="none" stroke="#6d6db6" stroke-width="2.6" stroke-linecap="round"/>
<path d="M178.73,83.43h0M179.04,82.57h0" fill="none" stroke="#6d6db6" stroke-width="2.7" stroke-linecap="round"/>
<path d="M103.31,177.23h0M150,104h0M150.28,103.14h0M179.54,81.71h0M180,80h0" fill="none" stroke="#6d6db6" stroke-width="2.8" stroke-linecap="round"/>
<path d="M184.46,79.17h0M185.07,78.33h0" fill="none" stroke="#6d6db6" stroke-width="2.9" stroke-linecap="round"/>
<path d="M150.71,102.27h0M164.64,88.83h0M165.52,87.89h0M187.61,76.67h0" fill="none" stroke="#6d6db6" stroke-width="3.0" stroke-linecap="round"/>
<path d="M144.49,106.72h0M148.28,104.91h0M164.43,89.78h0M179.91,80.86h0" fill="none" stroke="#6d6db6" stroke-width="3.2" stroke-linecap="round"/>
<path d="M153.67,101.41h0" fill="none" stroke="#6d6db6" stroke-width="3.3" stroke-linecap="round"/>
<path d="M145.73,105.81h0M154.32,100.55h0M155.51,99.68h0M160,94.5h0" fill="none" stroke="#6d6db6" stroke-width="3.4" stroke-linecap="round"/>
<path d="M104.02,176.35h0M104.04,175.46h0M104.68,174.58h0M105.27,173.69h0M105.77,172.81h0M106.02,171.92h0M106.94,171.04h0M108.75,170.15h0M108.83,169.27h0M109.65,168.38h0M110,167.5h0M110.36,166.62h0M111.47,165.74h0M113.05,164.85h0M113.56,163.97h0M113.66,163.09h0M114.91,162.21h0M115.01,161.32h0M115.24,160.44h0M116.11,159.56h0M116.3,158.68h0M116.45,157.79h0M117.92,156.91h0M119.34,156.03h0M119.52,155.15h0M119.77,154.26h0M119.93,153.38h0M120,152.5h0M120.18,151.58h0M122.56,150.67h0M122.61,149.75h0M122.77,148.83h0M122.91,147.92h0M122.96,147h0M123.41,146.08h0M124.24,145.17h0M125.35,144.25h0M125.96,143.33h0M126.99,142.42h0M127,141.5h0M127.2,140.58h0M129.18,139.67h0M129.22,138.75h0M129.41,137.83h0M129.81,136.92h0M130,136h0M130.34,135.08h0M130.36,134.16h0M130.48,133.24h0M131.84,132.32h0M131.91,131.39h0M132.92,130.47h0M133.01,129.55h0M135.13,128.63h0M135.62,127.71h0M136.06,126.79h0M136.13,125.87h0M136.16,124.95h0M136.77,124.03h0M136.85,123.11h0M136.94,122.18h0M137.69,121.26h0M138.58,120.34h0M138.6,119.42h0M140,118.5h0M140.34,117.59h0M140.55,116.69h0M140.6,115.78h0M140.82,114.88h0M142.75,113.97h0M142.9,113.06h0M142.96,112.16h0M143.03,111.25h0M143.09,110.34h0M143.28,109.44h0M144.37,108.53h0M144.4,107.62h0M155.88,98.82h0M155.91,97.95h0M156.32,97.09h0M157.68,96.23h0M159.17,95.36h0M160.61,93.56h0M161.36,92.61h0M161.93,91.67h0M162.68,90.72h0" fill="none" stroke="#6d6db6" stroke-width="3.5" stroke-linecap="round"/>
</g>
<circle cx="38" cy="238.3" r="1.4" fill="#f08040"/>
<circle cx="281" cy="57.7" r="1.3" fill="#9dd0ee"/>
<polyline points="151.3,70.9 158.8,70.9 158.8,94.4" fill="none" stroke="#5252a8" stroke-width="1.0" stroke-linejoin="round" stroke-linecap="butt" />
<rect x="106.6" y="66.8" width="44.7" height="15.3" fill="#fff" stroke="#5252a8" stroke-width="1.3" />
<text x="128.95" y="77.8" font-size="8.7" text-anchor="middle" fill="#111"><tspan font-style="italic">ks</tspan> = 0.039</text>
<polyline points="228.4,126.2 189.2,126.2 189.2,116.5" fill="none" stroke="#f05a22" stroke-width="1.0" stroke-linejoin="round" stroke-linecap="butt" />
<rect x="228.4" y="120" width="43.9" height="14.7" fill="#fff" stroke="#f05a22" stroke-width="1.3" />
<text x="250.35" y="130.4" font-size="8.7" text-anchor="middle" fill="#111"><tspan font-style="italic">ks</tspan> = 0.121</text>
<polyline points="237.1,157.4 199.1,157.4 199.1,151.9" fill="none" stroke="#78c4f0" stroke-width="1.0" stroke-linejoin="round" stroke-linecap="butt" />
<rect x="237.1" y="147.7" width="44.5" height="14.8" fill="#fff" stroke="#78c4f0" stroke-width="1.3" />
<text x="259.35" y="158.2" font-size="8.7" text-anchor="middle" fill="#111"><tspan font-style="italic">ks</tspan> = 0.192</text>
<polyline points="209.3,206.5 169.1,206.5 169.1,124.1" fill="none" stroke="#f8c22c" stroke-width="1.0" stroke-linejoin="round" stroke-linecap="butt" />
<rect x="209.3" y="198.2" width="44.3" height="15.2" fill="#fff" stroke="#f8c22c" stroke-width="1.3" />
<text x="231.45" y="209.1" font-size="8.7" text-anchor="middle" fill="#111"><tspan font-style="italic">ks</tspan> = 0.081</text>
<rect x="26.1" y="49.3" width="267.6" height="198.3" fill="none" stroke="#7a7a7a" stroke-width="1.1" />
<line x1="23.9" y1="239.3" x2="26.1" y2="239.3" stroke="#444" stroke-width="0.8" />
<text x="22" y="242" font-size="6.7" font-weight="normal" text-anchor="end" fill="#000" textLength="8.38" lengthAdjust="spacingAndGlyphs">0.0</text>
<line x1="23.9" y1="203.02" x2="26.1" y2="203.02" stroke="#444" stroke-width="0.8" />
<text x="22" y="205.72" font-size="6.7" font-weight="normal" text-anchor="end" fill="#000" textLength="8.38" lengthAdjust="spacingAndGlyphs">0.2</text>
<line x1="23.9" y1="166.74" x2="26.1" y2="166.74" stroke="#444" stroke-width="0.8" />
<text x="22" y="169.44" font-size="6.7" font-weight="normal" text-anchor="end" fill="#000" textLength="8.38" lengthAdjust="spacingAndGlyphs">0.4</text>
<line x1="23.9" y1="130.46" x2="26.1" y2="130.46" stroke="#444" stroke-width="0.8" />
<text x="22" y="133.16" font-size="6.7" font-weight="normal" text-anchor="end" fill="#000" textLength="8.38" lengthAdjust="spacingAndGlyphs">0.6</text>
<line x1="23.9" y1="94.18" x2="26.1" y2="94.18" stroke="#444" stroke-width="0.8" />
<text x="22" y="96.88" font-size="6.7" font-weight="normal" text-anchor="end" fill="#000" textLength="8.38" lengthAdjust="spacingAndGlyphs">0.8</text>
<line x1="23.9" y1="57.9" x2="26.1" y2="57.9" stroke="#444" stroke-width="0.8" />
<text x="22" y="60.6" font-size="6.7" font-weight="normal" text-anchor="end" fill="#000" textLength="8.38" lengthAdjust="spacingAndGlyphs">1.0</text>
<line x1="38.3" y1="247.6" x2="38.3" y2="250" stroke="#444" stroke-width="0.8" />
<text x="36.8" y="258.7" font-size="6.7" font-weight="normal" text-anchor="middle" fill="#000" textLength="6.71" lengthAdjust="spacingAndGlyphs">10</text>
<text x="39.7" y="254.5" font-size="4.5" text-anchor="start" fill="#000" >0</text>
<line x1="55.94" y1="247.6" x2="55.94" y2="248.9" stroke="#444" stroke-width="0.6" />
<line x1="66.26" y1="247.6" x2="66.26" y2="248.9" stroke="#444" stroke-width="0.6" />
<line x1="73.58" y1="247.6" x2="73.58" y2="248.9" stroke="#444" stroke-width="0.6" />
<line x1="79.26" y1="247.6" x2="79.26" y2="248.9" stroke="#444" stroke-width="0.6" />
<line x1="83.9" y1="247.6" x2="83.9" y2="248.9" stroke="#444" stroke-width="0.6" />
<line x1="87.82" y1="247.6" x2="87.82" y2="248.9" stroke="#444" stroke-width="0.6" />
<line x1="91.22" y1="247.6" x2="91.22" y2="248.9" stroke="#444" stroke-width="0.6" />
<line x1="94.22" y1="247.6" x2="94.22" y2="248.9" stroke="#444" stroke-width="0.6" />
<line x1="96.9" y1="247.6" x2="96.9" y2="250" stroke="#444" stroke-width="0.8" />
<text x="95.4" y="258.7" font-size="6.7" font-weight="normal" text-anchor="middle" fill="#000" textLength="6.71" lengthAdjust="spacingAndGlyphs">10</text>
<text x="98.3" y="254.5" font-size="4.5" text-anchor="start" fill="#000" >1</text>
<line x1="114.54" y1="247.6" x2="114.54" y2="248.9" stroke="#444" stroke-width="0.6" />
<line x1="124.86" y1="247.6" x2="124.86" y2="248.9" stroke="#444" stroke-width="0.6" />
<line x1="132.18" y1="247.6" x2="132.18" y2="248.9" stroke="#444" stroke-width="0.6" />
<line x1="137.86" y1="247.6" x2="137.86" y2="248.9" stroke="#444" stroke-width="0.6" />
<line x1="142.5" y1="247.6" x2="142.5" y2="248.9" stroke="#444" stroke-width="0.6" />
<line x1="146.42" y1="247.6" x2="146.42" y2="248.9" stroke="#444" stroke-width="0.6" />
<line x1="149.82" y1="247.6" x2="149.82" y2="248.9" stroke="#444" stroke-width="0.6" />
<line x1="152.82" y1="247.6" x2="152.82" y2="248.9" stroke="#444" stroke-width="0.6" />
<line x1="155.5" y1="247.6" x2="155.5" y2="250" stroke="#444" stroke-width="0.8" />
<text x="154" y="258.7" font-size="6.7" font-weight="normal" text-anchor="middle" fill="#000" textLength="6.71" lengthAdjust="spacingAndGlyphs">10</text>
<text x="156.9" y="254.5" font-size="4.5" text-anchor="start" fill="#000" >2</text>
<line x1="173.14" y1="247.6" x2="173.14" y2="248.9" stroke="#444" stroke-width="0.6" />
<line x1="183.46" y1="247.6" x2="183.46" y2="248.9" stroke="#444" stroke-width="0.6" />
<line x1="190.78" y1="247.6" x2="190.78" y2="248.9" stroke="#444" stroke-width="0.6" />
<line x1="196.46" y1="247.6" x2="196.46" y2="248.9" stroke="#444" stroke-width="0.6" />
<line x1="201.1" y1="247.6" x2="201.1" y2="248.9" stroke="#444" stroke-width="0.6" />
<line x1="205.02" y1="247.6" x2="205.02" y2="248.9" stroke="#444" stroke-width="0.6" />
<line x1="208.42" y1="247.6" x2="208.42" y2="248.9" stroke="#444" stroke-width="0.6" />
<line x1="211.42" y1="247.6" x2="211.42" y2="248.9" stroke="#444" stroke-width="0.6" />
<line x1="214.1" y1="247.6" x2="214.1" y2="250" stroke="#444" stroke-width="0.8" />
<text x="212.6" y="258.7" font-size="6.7" font-weight="normal" text-anchor="middle" fill="#000" textLength="6.71" lengthAdjust="spacingAndGlyphs">10</text>
<text x="215.5" y="254.5" font-size="4.5" text-anchor="start" fill="#000" >3</text>
<line x1="231.74" y1="247.6" x2="231.74" y2="248.9" stroke="#444" stroke-width="0.6" />
<line x1="242.06" y1="247.6" x2="242.06" y2="248.9" stroke="#444" stroke-width="0.6" />
<line x1="249.38" y1="247.6" x2="249.38" y2="248.9" stroke="#444" stroke-width="0.6" />
<line x1="255.06" y1="247.6" x2="255.06" y2="248.9" stroke="#444" stroke-width="0.6" />
<line x1="259.7" y1="247.6" x2="259.7" y2="248.9" stroke="#444" stroke-width="0.6" />
<line x1="263.62" y1="247.6" x2="263.62" y2="248.9" stroke="#444" stroke-width="0.6" />
<line x1="267.02" y1="247.6" x2="267.02" y2="248.9" stroke="#444" stroke-width="0.6" />
<line x1="270.02" y1="247.6" x2="270.02" y2="248.9" stroke="#444" stroke-width="0.6" />
<line x1="272.7" y1="247.6" x2="272.7" y2="250" stroke="#444" stroke-width="0.8" />
<text x="271.2" y="258.7" font-size="6.7" font-weight="normal" text-anchor="middle" fill="#000" textLength="6.71" lengthAdjust="spacingAndGlyphs">10</text>
<text x="274.1" y="254.5" font-size="4.5" text-anchor="start" fill="#000" >4</text>
<line x1="290.34" y1="247.6" x2="290.34" y2="248.9" stroke="#444" stroke-width="0.6" />
<line x1="29.22" y1="247.6" x2="29.22" y2="248.9" stroke="#444" stroke-width="0.6" />
<line x1="32.62" y1="247.6" x2="32.62" y2="248.9" stroke="#444" stroke-width="0.6" />
<line x1="35.62" y1="247.6" x2="35.62" y2="248.9" stroke="#444" stroke-width="0.6" />
<text x="29" y="62.4" font-size="14.5" text-anchor="start" fill="#111" >a</text>
<text x="159.7" y="271.7" font-size="12.1" text-anchor="middle" fill="#111" >Inter-event Time (Seconds)</text>
<text x="0" y="0" font-size="12.45" text-anchor="middle" fill="#111" transform="translate(9.6,149.6) rotate(-90)">Cumulative Probability</text>
<path d="M328.9,101.6 L333.5,84.73 L335.9,67.27 L340.3,57.4 L344.3,63.1 L348,64.6 L351.7,66.8 L355.7,77.8 L360,87.6 L367,109 L371,127.6 L374.8,138.1 L378.3,152.3 L380.9,154.5 L386.4,164.3 L389.7,166.5 L395.8,178.2 L401.7,191.3 L405,194.6 L409,208.9 L412,210.6 L416.4,218.13 L419.3,220.87 L420.8,218.5 L420.8,225.5 L419.3,226.73 L416.4,222.87 L412,214.2 L409,212.5 L405,198.2 L401.7,194.9 L395.8,181.8 L389.7,170.1 L386.4,167.9 L380.9,158.1 L378.3,155.9 L374.8,141.7 L371,131.2 L367,112.6 L360,91.2 L355.7,81.4 L351.7,70.4 L348,68.2 L344.3,66.7 L340.3,61 L335.9,74.33 L333.5,95.27 L328.9,115.6Z" fill="#8ccbf2" opacity="0.35"/>
<path d="M328.9,165.4 L332.7,148.73 L340.3,136.47 L344.3,144.9 L351.7,149.3 L355.7,158.1 L359.6,166.8 L363.3,171.2 L366.6,186 L370,193.8 L374.4,202.6 L380.9,209.2 L386.4,217.5 L390.8,213.5 L396.3,221.2 L400.7,219 L403.9,219.7 L409,231.1 L411.6,226.43 L416.4,231.87 L420.8,223.6 L420.8,230.6 L416.4,237.53 L411.6,230.77 L409,234.1 L403.9,222.7 L400.7,222 L396.3,224.2 L390.8,216.5 L386.4,220.5 L380.9,212.2 L374.4,205.6 L370,196.8 L366.6,189 L363.3,174.2 L359.6,169.8 L355.7,161.1 L351.7,152.3 L344.3,147.9 L340.3,141.13 L332.7,155.07 L328.9,173.4Z" fill="#d08a68" opacity="0.3"/>
<path d="M328.9,190.5 L333.8,184.33 L339.2,182.57 L346.9,188.5 L351.3,191.8 L355.7,197.3 L360,199.5 L365.5,207.1 L369.9,215.9 L374.8,227 L384.2,226.5 L389.7,224.3 L394.1,225.2 L400.7,221.5 L405,224.8 L410.5,224.8 L414.9,224.77 L418.6,221.73 L420.8,218.7 L420.8,223.7 L418.6,225.87 L414.9,228.03 L410.5,227.2 L405,227.2 L400.7,223.9 L394.1,227.6 L389.7,226.7 L384.2,228.9 L374.8,229.4 L369.9,218.3 L365.5,209.5 L360,201.9 L355.7,199.7 L351.3,194.2 L346.9,190.9 L339.2,185.83 L333.8,188.47 L328.9,195.5Z" fill="#f9c54a" opacity="0.3"/>
<polyline points="328.9,108.6 333.5,90 335.9,70.8 340.3,59.2 344.3,64.9 348,66.4 351.7,68.6 355.7,79.6 360,89.4 367,110.8 371,129.4 374.8,139.9 378.3,154.1 380.9,156.3 386.4,166.1 389.7,168.3 395.8,180 401.7,193.1 405,196.4 409,210.7 412,212.4 416.4,220.5 419.3,223.8 420.8,222" fill="none" stroke="#7cc3f2" stroke-width="1.9" stroke-linejoin="round" stroke-linecap="butt" />
<polyline points="328.9,169.4 332.7,151.9 340.3,138.8 344.3,146.4 351.7,150.8 355.7,159.6 359.6,168.3 363.3,172.7 366.6,187.5 370,195.3 374.4,204.1 380.9,210.7 386.4,219 390.8,215 396.3,222.7 400.7,220.5 403.9,221.2 409,232.6 411.6,228.6 416.4,234.7 420.8,227.1" fill="none" stroke="#c5714a" stroke-width="1.9" stroke-linejoin="round" stroke-linecap="butt" />
<polyline points="328.9,193 333.8,186.4 339.2,184.2 346.9,189.7 351.3,193 355.7,198.5 360,200.7 365.5,208.3 369.9,217.1 374.8,228.2 384.2,227.7 389.7,225.5 394.1,226.4 400.7,222.7 405,226 410.5,226 414.9,226.4 418.6,223.8 420.8,221.2" fill="none" stroke="#f8c548" stroke-width="1.9" stroke-linejoin="round" stroke-linecap="butt" />
<line x1="425.5" y1="48.3" x2="425.5" y2="247.4" stroke="#9a9a9a" stroke-width="1.4" />
<line x1="324.5" y1="48.3" x2="426" y2="48.3" stroke="#505050" stroke-width="1.2" />
<line x1="324.5" y1="247.4" x2="426" y2="247.4" stroke="#8a8a8a" stroke-width="1.3" />
<line x1="324.5" y1="47.7" x2="324.5" y2="248" stroke="#505050" stroke-width="1.2" />
<line x1="322.3" y1="217.5" x2="324.5" y2="217.5" stroke="#444" stroke-width="0.8" />
<text x="320.2" y="220.2" font-size="6.7" font-weight="normal" text-anchor="end" fill="#000" textLength="8.38" lengthAdjust="spacingAndGlyphs">0.0</text>
<line x1="322.3" y1="184.1" x2="324.5" y2="184.1" stroke="#444" stroke-width="0.8" />
<text x="320.2" y="186.8" font-size="6.7" font-weight="normal" text-anchor="end" fill="#000" textLength="8.38" lengthAdjust="spacingAndGlyphs">0.1</text>
<line x1="322.3" y1="150.7" x2="324.5" y2="150.7" stroke="#444" stroke-width="0.8" />
<text x="320.2" y="153.4" font-size="6.7" font-weight="normal" text-anchor="end" fill="#000" textLength="8.38" lengthAdjust="spacingAndGlyphs">0.2</text>
<line x1="322.3" y1="117.3" x2="324.5" y2="117.3" stroke="#444" stroke-width="0.8" />
<text x="320.2" y="120" font-size="6.7" font-weight="normal" text-anchor="end" fill="#000" textLength="8.38" lengthAdjust="spacingAndGlyphs">0.3</text>
<line x1="322.3" y1="83.9" x2="324.5" y2="83.9" stroke="#444" stroke-width="0.8" />
<text x="320.2" y="86.6" font-size="6.7" font-weight="normal" text-anchor="end" fill="#000" textLength="8.38" lengthAdjust="spacingAndGlyphs">0.4</text>
<line x1="322.3" y1="50.5" x2="324.5" y2="50.5" stroke="#444" stroke-width="0.8" />
<text x="320.2" y="53.2" font-size="6.7" font-weight="normal" text-anchor="end" fill="#000" textLength="8.38" lengthAdjust="spacingAndGlyphs">0.5</text>
<line x1="345.38" y1="247.4" x2="345.38" y2="249.8" stroke="#444" stroke-width="0.8" />
<text x="345.38" y="256.8" font-size="6.7" font-weight="normal" text-anchor="middle" fill="#000" textLength="11.73" lengthAdjust="spacingAndGlyphs">0.25</text>
<line x1="370.45" y1="247.4" x2="370.45" y2="249.8" stroke="#444" stroke-width="0.8" />
<text x="370.45" y="256.8" font-size="6.7" font-weight="normal" text-anchor="middle" fill="#000" textLength="11.73" lengthAdjust="spacingAndGlyphs">0.50</text>
<line x1="395.52" y1="247.4" x2="395.52" y2="249.8" stroke="#444" stroke-width="0.8" />
<text x="395.52" y="256.8" font-size="6.7" font-weight="normal" text-anchor="middle" fill="#000" textLength="11.73" lengthAdjust="spacingAndGlyphs">0.75</text>
<line x1="420.6" y1="247.4" x2="420.6" y2="249.8" stroke="#444" stroke-width="0.8" />
<text x="420.6" y="256.8" font-size="6.7" font-weight="normal" text-anchor="middle" fill="#000" textLength="11.73" lengthAdjust="spacingAndGlyphs">1.00</text>
<text x="327.3" y="61.9" font-size="14.5" text-anchor="start" fill="#111" >b</text>
<text x="374.7" y="268.7" font-size="12.1" text-anchor="middle" fill="#111" >Original Distance</text>
<text x="0" y="0" font-size="12.3" text-anchor="middle" fill="#111" transform="translate(307.4,147.5) rotate(-90)">Distance Change</text>
<rect x="458" y="76" width="19" height="171.9" fill="#4b4ba0" stroke="#3d3d95" stroke-width="0.6" />
<line x1="467.5" y1="73.9" x2="467.5" y2="78.5" stroke="#111" stroke-width="1.5" />
<rect x="482.1" y="82.6" width="18.9" height="165.3" fill="#fdd98a" stroke="#f5cf7e" stroke-width="0.6" />
<line x1="491.55" y1="81.4" x2="491.55" y2="83.8" stroke="#111" stroke-width="1.5" />
<rect x="506.1" y="94.1" width="19" height="153.8" fill="#dea583" stroke="#d49574" stroke-width="0.6" />
<line x1="515.6" y1="91.6" x2="515.6" y2="95.8" stroke="#111" stroke-width="1.5" />
<rect x="530.2" y="108.9" width="18.9" height="139" fill="#a9dcfa" stroke="#9fd4f5" stroke-width="0.6" />
<line x1="539.65" y1="106.7" x2="539.65" y2="111.1" stroke="#111" stroke-width="1.5" />
<line x1="553.6" y1="48.5" x2="553.6" y2="247.9" stroke="#9a9a9a" stroke-width="1.4" />
<line x1="453.2" y1="48.5" x2="554.1" y2="48.5" stroke="#505050" stroke-width="1.2" />
<line x1="453.2" y1="247.9" x2="554.1" y2="247.9" stroke="#a0a0a0" stroke-width="1.3" />
<line x1="453.2" y1="47.9" x2="453.2" y2="248.5" stroke="#505050" stroke-width="1.2" />
<line x1="451" y1="247.9" x2="453.2" y2="247.9" stroke="#444" stroke-width="0.8" />
<text x="449.2" y="250.6" font-size="6.7" font-weight="normal" text-anchor="end" fill="#000" textLength="8.38" lengthAdjust="spacingAndGlyphs">0.0</text>
<line x1="451" y1="208.08" x2="453.2" y2="208.08" stroke="#444" stroke-width="0.8" />
<text x="449.2" y="210.78" font-size="6.7" font-weight="normal" text-anchor="end" fill="#000" textLength="8.38" lengthAdjust="spacingAndGlyphs">0.2</text>
<line x1="451" y1="168.26" x2="453.2" y2="168.26" stroke="#444" stroke-width="0.8" />
<text x="449.2" y="170.96" font-size="6.7" font-weight="normal" text-anchor="end" fill="#000" textLength="8.38" lengthAdjust="spacingAndGlyphs">0.4</text>
<line x1="451" y1="128.44" x2="453.2" y2="128.44" stroke="#444" stroke-width="0.8" />
<text x="449.2" y="131.14" font-size="6.7" font-weight="normal" text-anchor="end" fill="#000" textLength="8.38" lengthAdjust="spacingAndGlyphs">0.6</text>
<line x1="451" y1="88.62" x2="453.2" y2="88.62" stroke="#444" stroke-width="0.8" />
<text x="449.2" y="91.32" font-size="6.7" font-weight="normal" text-anchor="end" fill="#000" textLength="8.38" lengthAdjust="spacingAndGlyphs">0.8</text>
<line x1="451" y1="48.8" x2="453.2" y2="48.8" stroke="#444" stroke-width="0.8" />
<text x="449.2" y="51.5" font-size="6.7" font-weight="normal" text-anchor="end" fill="#000" textLength="8.38" lengthAdjust="spacingAndGlyphs">1.0</text>
<line x1="467.5" y1="247.9" x2="467.5" y2="250.3" stroke="#444" stroke-width="0.8" />
<line x1="491.55" y1="247.9" x2="491.55" y2="250.3" stroke="#444" stroke-width="0.8" />
<line x1="515.6" y1="247.9" x2="515.6" y2="250.3" stroke="#444" stroke-width="0.8" />
<line x1="539.65" y1="247.9" x2="539.65" y2="250.3" stroke="#444" stroke-width="0.8" />
<text x="455" y="61.9" font-size="14.5" text-anchor="start" fill="#111" >c</text>
<text x="0" y="0" font-size="10.5" text-anchor="middle" fill="#111" transform="translate(437.2,147.9) rotate(-90)">AUC</text>
<path d="M588.8,114.5 L592.8,137 L598.2,157 L601.5,169.8 L607,187 L610.3,196.1 L614.7,206.7 L623.4,219.8 L634.4,229.7 L644,234.1 L660,239 L680,242.8 L680,248.8 L660,245 L644,240.1 L634.4,235.7 L623.4,225.8 L614.7,212.7 L610.3,202.1 L607,193 L601.5,175.8 L598.2,163 L592.8,143 L588.8,120.5Z" fill="#8080d0" opacity="0.3"/>
<path d="M588.4,106 L590.6,118 L594,134 L598.5,152 L602,166 L600,166 L596,150 L592.4,136 L589,118 Z" fill="#9a9ae0" opacity="0.45"/>
<path d="M589.5,134.2 L592.5,147 L596.5,162 L601.5,177 L606.5,189 L610,197 L616.8,206.7 L627.8,219.8 L644,231.9 L660,237.5 L680,242.5 L680,248.5 L660,243.5 L644,237.9 L627.8,225.8 L616.8,212.7 L610,203 L606.5,195 L601.5,183 L596.5,168 L592.5,153 L589.5,140.2Z" fill="#fcd888" opacity="0.3"/>
<path d="M588.8,156.7 L593.9,172 L598.2,187 L603.7,196.1 L608.1,204.5 L621.2,219.8 L636.5,231.9 L655,238 L680,242.5 L680,248.5 L655,244 L636.5,237.9 L621.2,225.8 L608.1,210.5 L603.7,202.1 L598.2,193 L593.9,178 L588.8,162.7Z" fill="#eab090" opacity="0.3"/>
<path d="M588.2,152 L590,160 L593,172 L596.5,184 L596,188 L592,176 L589,165 Z" fill="#f0c0a8" opacity="0.5"/>
<path d="M589.5,180.3 L591.7,186.5 L596,195.6 L601.5,206.2 L616.8,224.8 L632.2,232.5 L644,235.8 L660,239 L680,242.3 L680,249.3 L660,246 L644,242.8 L632.2,239.5 L616.8,231.8 L601.5,213.2 L596,202.6 L591.7,193.5 L589.5,187.3Z" fill="#b0dcf8" opacity="0.35"/>
<polyline points="589.5,183.8 591.7,190 596,199.1 601.5,209.7 616.8,228.3 632.2,236 644,239.3 660,242.5 680,245.8" fill="none" stroke="#86c8f2" stroke-width="1.8" stroke-linejoin="round" stroke-linecap="butt" stroke-dasharray="6,2.5,1.5,2.5"/>
<polyline points="588.8,117.5 592.8,140 598.2,160 601.5,172.8 607,190 610.3,199.1 614.7,209.7 623.4,222.8 634.4,232.7 644,237.1 660,242 680,245.8" fill="none" stroke="#1c1c8c" stroke-width="1.6" stroke-linejoin="round" stroke-linecap="butt" />
<polyline points="588.8,159.7 593.9,175 598.2,190 603.7,199.1 608.1,207.5 621.2,222.8 636.5,234.9 655,241 680,245.5" fill="none" stroke="#d9784a" stroke-width="1.8" stroke-linejoin="round" stroke-linecap="butt" stroke-dasharray="1.6,2.6"/>
<polyline points="589.5,137.2 592.5,150 596.5,165 601.5,180 606.5,192 610,200 616.8,209.7 627.8,222.8 644,234.9 660,240.5 680,245.5" fill="none" stroke="#fcc860" stroke-width="1.6" stroke-linejoin="round" stroke-linecap="butt" stroke-dasharray="4.4,2.9"/>
<line x1="684" y1="48.5" x2="684" y2="247.6" stroke="#9a9a9a" stroke-width="1.4" />
<line x1="584.4" y1="48.5" x2="684.5" y2="48.5" stroke="#505050" stroke-width="1.2" />
<line x1="584.4" y1="247.6" x2="684.5" y2="247.6" stroke="#505050" stroke-width="1.3" />
<line x1="584.4" y1="47.9" x2="584.4" y2="248.2" stroke="#505050" stroke-width="1.2" />
<line x1="582.2" y1="247.6" x2="584.4" y2="247.6" stroke="#444" stroke-width="0.8" />
<text x="580.6" y="250.3" font-size="6.7" font-weight="normal" text-anchor="end" fill="#000" textLength="8.38" lengthAdjust="spacingAndGlyphs">0.0</text>
<line x1="582.2" y1="207.88" x2="584.4" y2="207.88" stroke="#444" stroke-width="0.8" />
<text x="580.6" y="210.58" font-size="6.7" font-weight="normal" text-anchor="end" fill="#000" textLength="8.38" lengthAdjust="spacingAndGlyphs">0.2</text>
<line x1="582.2" y1="168.16" x2="584.4" y2="168.16" stroke="#444" stroke-width="0.8" />
<text x="580.6" y="170.86" font-size="6.7" font-weight="normal" text-anchor="end" fill="#000" textLength="8.38" lengthAdjust="spacingAndGlyphs">0.4</text>
<line x1="582.2" y1="128.44" x2="584.4" y2="128.44" stroke="#444" stroke-width="0.8" />
<text x="580.6" y="131.14" font-size="6.7" font-weight="normal" text-anchor="end" fill="#000" textLength="8.38" lengthAdjust="spacingAndGlyphs">0.6</text>
<line x1="582.2" y1="88.72" x2="584.4" y2="88.72" stroke="#444" stroke-width="0.8" />
<text x="580.6" y="91.42" font-size="6.7" font-weight="normal" text-anchor="end" fill="#000" textLength="8.38" lengthAdjust="spacingAndGlyphs">0.8</text>
<line x1="582.2" y1="49" x2="584.4" y2="49" stroke="#444" stroke-width="0.8" />
<text x="580.6" y="51.7" font-size="6.7" font-weight="normal" text-anchor="end" fill="#000" textLength="8.38" lengthAdjust="spacingAndGlyphs">1.0</text>
<line x1="587.3" y1="247.6" x2="587.3" y2="250" stroke="#444" stroke-width="0.8" />
<text x="585.8" y="258.7" font-size="6.7" font-weight="normal" text-anchor="middle" fill="#000" textLength="6.71" lengthAdjust="spacingAndGlyphs">10</text>
<text x="588.7" y="254.5" font-size="4.5" text-anchor="start" fill="#000" >1</text>
<line x1="596.57" y1="247.6" x2="596.57" y2="248.9" stroke="#444" stroke-width="0.6" />
<line x1="602" y1="247.6" x2="602" y2="248.9" stroke="#444" stroke-width="0.6" />
<line x1="605.84" y1="247.6" x2="605.84" y2="248.9" stroke="#444" stroke-width="0.6" />
<line x1="608.83" y1="247.6" x2="608.83" y2="248.9" stroke="#444" stroke-width="0.6" />
<line x1="611.27" y1="247.6" x2="611.27" y2="248.9" stroke="#444" stroke-width="0.6" />
<line x1="613.33" y1="247.6" x2="613.33" y2="248.9" stroke="#444" stroke-width="0.6" />
<line x1="615.12" y1="247.6" x2="615.12" y2="248.9" stroke="#444" stroke-width="0.6" />
<line x1="616.69" y1="247.6" x2="616.69" y2="248.9" stroke="#444" stroke-width="0.6" />
<line x1="618.1" y1="247.6" x2="618.1" y2="250" stroke="#444" stroke-width="0.8" />
<text x="616.6" y="258.7" font-size="6.7" font-weight="normal" text-anchor="middle" fill="#000" textLength="6.71" lengthAdjust="spacingAndGlyphs">10</text>
<text x="619.5" y="254.5" font-size="4.5" text-anchor="start" fill="#000" >2</text>
<line x1="627.37" y1="247.6" x2="627.37" y2="248.9" stroke="#444" stroke-width="0.6" />
<line x1="632.8" y1="247.6" x2="632.8" y2="248.9" stroke="#444" stroke-width="0.6" />
<line x1="636.64" y1="247.6" x2="636.64" y2="248.9" stroke="#444" stroke-width="0.6" />
<line x1="639.63" y1="247.6" x2="639.63" y2="248.9" stroke="#444" stroke-width="0.6" />
<line x1="642.07" y1="247.6" x2="642.07" y2="248.9" stroke="#444" stroke-width="0.6" />
<line x1="644.13" y1="247.6" x2="644.13" y2="248.9" stroke="#444" stroke-width="0.6" />
<line x1="645.92" y1="247.6" x2="645.92" y2="248.9" stroke="#444" stroke-width="0.6" />
<line x1="647.49" y1="247.6" x2="647.49" y2="248.9" stroke="#444" stroke-width="0.6" />
<line x1="648.9" y1="247.6" x2="648.9" y2="250" stroke="#444" stroke-width="0.8" />
<text x="647.4" y="258.7" font-size="6.7" font-weight="normal" text-anchor="middle" fill="#000" textLength="6.71" lengthAdjust="spacingAndGlyphs">10</text>
<text x="650.3" y="254.5" font-size="4.5" text-anchor="start" fill="#000" >3</text>
<line x1="658.17" y1="247.6" x2="658.17" y2="248.9" stroke="#444" stroke-width="0.6" />
<line x1="663.6" y1="247.6" x2="663.6" y2="248.9" stroke="#444" stroke-width="0.6" />
<line x1="667.44" y1="247.6" x2="667.44" y2="248.9" stroke="#444" stroke-width="0.6" />
<line x1="670.43" y1="247.6" x2="670.43" y2="248.9" stroke="#444" stroke-width="0.6" />
<line x1="672.87" y1="247.6" x2="672.87" y2="248.9" stroke="#444" stroke-width="0.6" />
<line x1="674.93" y1="247.6" x2="674.93" y2="248.9" stroke="#444" stroke-width="0.6" />
<line x1="676.72" y1="247.6" x2="676.72" y2="248.9" stroke="#444" stroke-width="0.6" />
<line x1="678.29" y1="247.6" x2="678.29" y2="248.9" stroke="#444" stroke-width="0.6" />
<line x1="679.7" y1="247.6" x2="679.7" y2="250" stroke="#444" stroke-width="0.8" />
<text x="678.2" y="258.7" font-size="6.7" font-weight="normal" text-anchor="middle" fill="#000" textLength="6.71" lengthAdjust="spacingAndGlyphs">10</text>
<text x="681.1" y="254.5" font-size="4.5" text-anchor="start" fill="#000" >4</text>
<text x="587.3" y="62.6" font-size="14.5" text-anchor="start" fill="#111" >d</text>
<text x="634.6" y="270.6" font-size="12.2" text-anchor="middle" fill="#111" >Top Pairs</text>
<text x="0" y="0" font-size="12.5" text-anchor="middle" fill="#111" transform="translate(568.0,147.9) rotate(-90)">Precision</text>
</svg>
</body></html>
